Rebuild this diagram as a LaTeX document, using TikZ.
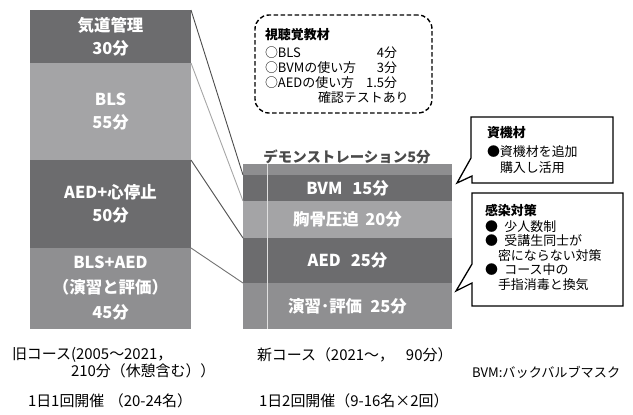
\documentclass[tikz,border=0pt]{standalone}
\usepackage{fontspec}
\setmainfont{Noto Sans CJK JP}
\newcommand\myblkfont{\fontsize{16.5}{23}\selectfont\bfseries}
\newcommand\mysmfont{\fontsize{13}{15}\selectfont}
\newcommand\mybtfont{\fontsize{15}{17}\selectfont}
\definecolor{cA}{HTML}{6C6C6E}
\definecolor{cB}{HTML}{A4A4A6}
\definecolor{cC}{HTML}{8F8F91}
\definecolor{cD}{HTML}{8E8E90}
\definecolor{dtext}{HTML}{4A4A4A}
\begin{document}
\begin{tikzpicture}[x=1bp,y=-1bp,
  blk/.style={inner sep=0, outer sep=0, minimum width=161bp, text=white, font=\myblkfont, align=center},
  rblk/.style={inner sep=0, outer sep=0, minimum width=209bp, text=white, font=\myblkfont, align=center},
  tsm/.style={inner sep=0, outer sep=0, font=\mysmfont, anchor=west},
  tsmb/.style={tsm, font=\mysmfont\bfseries},
  tbt/.style={inner sep=0, outer sep=0, font=\mybtfont, anchor=west},
  conn/.style={line width=0.9bp},
  callout/.style={draw=black, line width=1.3bp, line join=miter, fill=white}]
\useasboundingbox (0,0) rectangle (633,414);

% old course blocks
\node[blk, fill=cA, minimum height=53bp] (kido) at (110.5,36.5) {気道管理\\30分};
\node[blk, fill=cB, minimum height=97bp] (bls) at (110.5,111.5) {BLS\\55分};
\node[blk, fill=cA, minimum height=88bp] (aedc) at (110.5,204) {AED+心停止\\50分};
\node[blk, fill=cC, minimum height=81bp, font=\fontsize{16.5}{25}\selectfont\bfseries] (blsaed) at (110.5,288.5) {BLS+AED\\（演習と評価）\\45分};

% new course blocks
\node[rblk, fill=cD, minimum height=11bp] (demo) at (347.5,169.5) {};
\node[rblk, fill=cA, minimum height=26bp] (bvm) at (347.5,188) {BVM\hspace{0.6em}15分};
\node[rblk, fill=cB, minimum height=37bp] (chest) at (347.5,219.5) {胸骨圧迫\hspace{0.4em}20分};
\node[rblk, fill=cA, minimum height=45bp] (aed) at (347.5,260.5) {AED\hspace{0.6em}25分};
\node[rblk, fill=cC, minimum height=46bp] (ex) at (347.5,306) {演習･評価\hspace{0.5em}25分};
\draw[white!75!gray, line width=0.6bp] (267,164) -- (267,329);
\node[inner sep=0, font=\fontsize{14.5}{17}\selectfont\bfseries, text=dtext] (demolbl) at (347,157) {デモンストレーション5分};

% connectors
\draw[conn, draw=black!70] (kido.north east) -- (bvm.north west);
\draw[conn, draw=black!35] (bls.north east) -- (chest.north west);
\draw[conn, draw=black!70] (aedc.north east) -- (aed.north west);
\draw[conn, draw=black!55] (blsaed.north east) -- (ex.north west);

% audiovisual box
\node[draw=black, line width=1.4bp, dash pattern=on 4.5bp off 2.5bp, rounded corners=14bp,
      minimum width=177bp, minimum height=98bp, inner sep=0] (av) at (343.5,64) {};
\node[tsmb] (avt) at (265,35) {視聴覚教材};
\node[tsm] (av1) at (265,53) {○BLS};
\node[tsm, anchor=east] (av1m) at (397,53) {4分};
\node[tsm] (av2) at (265,68) {○BVMの使い方};
\node[tsm, anchor=east] (av2m) at (397,68) {3分};
\node[tsm] (av3) at (265,83) {○AEDの使い方};
\node[tsm, anchor=east] (av3m) at (397,83) {1.5分};
\node[tsm] (av4) at (318,98) {確認テストあり};

% callout 1
\draw[callout] (471,117) -- (613,117) -- (613,183) -- (472,183) -- (472,176) -- (457,183) -- (471,158) -- cycle;
\node[tsmb] (c1t) at (487,133) {資機材};
\node[tsm] (c1a) at (487,152) {●資機材を追加};
\node[tsm] (c1b) at (500,168) {購入し活用};

% callout 2
\draw[callout] (472,193) -- (623,193) -- (623,306) -- (472,306) -- (472,283) -- (456,291) -- (472,264) -- cycle;
\node[tsmb] (c2t) at (485,210) {感染対策};
\node[tsm] (c2a) at (485,227) {●\hspace{0.5em}少人数制};
\node[tsm] (c2b) at (485,241) {●\hspace{0.5em}受講生同士が};
\node[tsm] (c2c) at (498,256) {密にならない対策};
\node[tsm] (c2d) at (485,270) {●\hspace{0.5em}コース中の};
\node[tsm] (c2e) at (498,285) {手指消毒と換気};

% bottom texts
\node[tbt] (old1) at (12,355) {旧コース(2005〜2021，};
\node[tbt] (old2) at (71,371) {210分（休憩含む））};
\node[tbt] (old3) at (28,401) {1日1回開催\hspace{0.3em}（20-24名）};
\node[tbt] (new1) at (257,355) {新コース（2021〜，\hspace{0.8em}90分）};
\node[tbt] (new3) at (259,401) {1日2回開催（9-16名×2回）};
\node[tbt, font=\fontsize{13.2}{15}\selectfont] (bvmnote) at (472,372) {BVM:バックバルブマスク};
\end{tikzpicture}
\end{document}
